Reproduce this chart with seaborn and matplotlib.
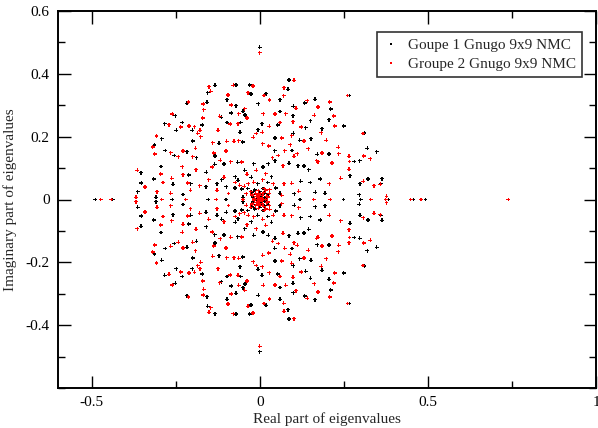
import numpy as np
import pandas as pd
import matplotlib
matplotlib.use("Agg")
import matplotlib.pyplot as plt
import seaborn as sns
from matplotlib.ticker import MultipleLocator
from matplotlib.lines import Line2D

# ---- data (eigenvalues; complex ones come in conjugate pairs) ----
# Group 1 (black): eigenvalues with positive imaginary part
g1_re_upper = [-0.133, -0.071, -0.030, -0.155, -0.026, -0.097, -0.216, -0.157, -0.071, -0.004,
               -0.050, -0.251, -0.114, -0.085, -0.044, -0.283, -0.230, -0.248, -0.201, -0.171,
               -0.097, -0.057, -0.059, -0.005, -0.292, -0.199, -0.121, -0.051, -0.313, -0.281,
               -0.254, -0.216, -0.188, -0.133,
               -0.294, -0.353, -0.352, -0.315, -0.258, -0.211, -0.205, -0.228, -0.160, -0.159,
               -0.134, -0.127, -0.113, -0.099, -0.073, -0.074, -0.066, -0.106, -0.045, -0.054,
               -0.036, -0.363, -0.309,
               0.087, 0.084, 0.019, 0.060, 0.134, 0.164, 0.211, 0.100, 0.266, 0.060,
               0.099, 0.151, 0.206, 0.250, 0.311, 0.007, 0.053, 0.137, 0.185, 0.152,
               0.119, 0.100, 0.045, 0.044, 0.096, 0.171, 0.206, 0.281, 0.320, 0.348,
               0.322, 0.364,
               0.087, 0.114, 0.132, 0.146, 0.297, 0.268, 0.298, 0.360, 0.296, 0.194,
               0.165, 0.150, 0.180, 0.103, 0.122,
               0.000,
               0.010, 0.035, 0.024, 0.047, 0.060, 0.045, 0.025, -0.018, -0.025, -0.006,
               -0.024, -0.050, -0.065,
               0.005, -0.010, 0.015, -0.020, 0.020, 0.000, -0.015, 0.010, 0.025, -0.004,
               0.014, -0.022]
g1_im_upper = [0.363, 0.364, 0.364, 0.340, 0.336, 0.318, 0.306, 0.309, 0.299, 0.305,
               0.281, 0.267, 0.262, 0.275, 0.269, 0.241, 0.245, 0.220, 0.220, 0.237,
               0.245, 0.245, 0.214, 0.222, 0.194, 0.186, 0.179, 0.183, 0.173, 0.156,
               0.140, 0.152, 0.133, 0.138,
               0.105, 0.085, 0.053, 0.065, 0.048, 0.078, 0.050, 0.016, 0.041, 0.087,
               0.112, 0.050, 0.063, 0.041, 0.073, 0.037, 0.118, 0.113, 0.093, 0.033,
               0.035, 0.025, 0.007,
               0.380, 0.351, 0.337, 0.318, 0.307, 0.319, 0.288, 0.297, 0.331, 0.280,
               0.267, 0.251, 0.254, 0.234, 0.212, 0.241, 0.237, 0.229, 0.225, 0.194,
               0.188, 0.211, 0.196, 0.155, 0.156, 0.144, 0.145, 0.121, 0.163, 0.152,
               0.065, 0.066,
               0.115, 0.108, 0.107, 0.095, 0.124, 0.076, 0.050, 0.050, 0.015, 0.020,
               0.023, 0.054, 0.065, 0.018, 0.058,
               0.484,
               0.103, 0.073, 0.054, 0.037, 0.020, 0.124, 0.114, 0.114, 0.071, 0.050,
               0.025, 0.007, 0.061,
               0.010, 0.015, 0.020, 0.008, 0.005, 0.025, 0.030, 0.035, 0.015, 0.004,
               0.006, 0.022]
# Group 1 real eigenvalues
g1_re_real = [-0.489, -0.437, -0.260, -0.153, -0.100, -0.010, 0.000, 0.012, 0.120, 0.249,
              0.300, 0.382, 0.457, 0.493]

# Group 2 (red): eigenvalues with positive imaginary part
g2_re_upper = [-0.151, -0.079, -0.020, -0.146, -0.094, -0.035, -0.212, -0.168, -0.085, -0.167,
               -0.045, -0.260, -0.170, -0.119, -0.063, -0.038, -0.270, -0.235, -0.210, -0.194,
               -0.185, -0.178, -0.124, -0.088, -0.065, -0.010, -0.307, -0.176, -0.140, -0.098,
               -0.077, -0.063, -0.019, -0.318, -0.265, -0.228, -0.242, -0.191, -0.199, -0.137,
               -0.117, -0.100,
               -0.312, -0.295, -0.364, -0.341, -0.368, -0.288, -0.262, -0.230, -0.228, -0.214,
               -0.206, -0.265, -0.190, -0.179, -0.152, -0.141, -0.127, -0.106, -0.093, -0.073,
               -0.086, -0.054, -0.038, -0.046, -0.306,
               0.102, 0.072, 0.013, 0.071, 0.029, 0.141, 0.208, 0.173, 0.108, 0.261,
               0.011, 0.045, 0.077, 0.099, 0.162, 0.220, 0.223, 0.307, 0.008, 0.028,
               0.060, 0.124, 0.183, 0.132, 0.095, 0.065, 0.009, 0.027, 0.038, 0.074,
               0.091, 0.112, 0.144, 0.169, 0.198, 0.234, 0.265, 0.309, 0.329, 0.265,
               0.340,
               0.069, 0.102, 0.173, 0.185, 0.215, 0.235, 0.267, 0.241, 0.308, 0.377,
               0.207, 0.116, 0.095, 0.072, 0.359,
               0.000,
               0.018, 0.009, 0.040, 0.030, 0.065, 0.055, -0.010, -0.018, -0.034, -0.040,
               -0.060,
               0.000, 0.008, -0.008, 0.012, -0.012, 0.020, -0.022, 0.003, -0.004, 0.018,
               0.028, -0.027, 0.006, -0.016, 0.024, -0.002, 0.014]
g2_im_upper = [0.359, 0.363, 0.361, 0.344, 0.333, 0.340, 0.310, 0.304, 0.301, 0.286,
               0.289, 0.272, 0.259, 0.265, 0.273, 0.259, 0.238, 0.231, 0.234, 0.232,
               0.211, 0.220, 0.220, 0.240, 0.241, 0.210, 0.202, 0.200, 0.181, 0.185,
               0.185, 0.187, 0.198, 0.167, 0.149, 0.154, 0.136, 0.163, 0.136, 0.148,
               0.125, 0.154,
               0.145, 0.081, 0.093, 0.040, 0.007, 0.054, 0.067, 0.104, 0.079, 0.053,
               0.029, 0.020, 0.095, 0.044, 0.063, 0.103, 0.029, 0.071, 0.019, 0.054,
               0.120, 0.119, 0.080, 0.042, 0.025,
               0.379, 0.356, 0.331, 0.330, 0.317, 0.315, 0.310, 0.294, 0.290, 0.331,
               0.273, 0.272, 0.273, 0.248, 0.268, 0.266, 0.234, 0.210, 0.214, 0.233,
               0.245, 0.231, 0.213, 0.186, 0.203, 0.196, 0.178, 0.170, 0.133, 0.155,
               0.174, 0.146, 0.162, 0.124, 0.188, 0.166, 0.137, 0.138, 0.130, 0.096,
               0.044,
               0.108, 0.137, 0.120, 0.148, 0.116, 0.146, 0.121, 0.067, 0.058, 0.010,
               0.050, 0.026, 0.052, 0.050, 0.048,
               0.467,
               0.082, 0.063, 0.050, 0.031, 0.013, 0.140, 0.093, 0.055, 0.050, 0.018,
               0.045,
               0.005, 0.012, 0.010, 0.022, 0.020, 0.010, 0.014, 0.018, 0.028, 0.030,
               0.020, 0.025, 0.003, 0.004, 0.008, 0.015, 0.035]
# Group 2 real eigenvalues
g2_re_real = [-0.473, -0.441, -0.292, -0.220, -0.129, -0.050, -0.018, -0.005, 0.006, 0.018,
              0.160, 0.210, 0.330, 0.375, 0.449, 0.480, 0.739]

labels = ["Goupe 1 Gnugo 9x9 NMC", "Groupe 2 Gnugo 9x9 NMC"]
colors = ["black", "red"]


def spectrum(re_up, im_up, re_real):
    re = list(re_up) + list(re_up) + list(re_real)
    im = list(im_up) + [-v for v in im_up] + [0.0] * len(re_real)
    return re, im


frames = []
for lab, (ru, iu, rr) in zip(labels, [(g1_re_upper, g1_im_upper, g1_re_real),
                                      (g2_re_upper, g2_im_upper, g2_re_real)]):
    re, im = spectrum(ru, iu, rr)
    frames.append(pd.DataFrame({"re": re, "im": im, "group": lab}))
df = pd.concat(frames, ignore_index=True)

# ---- plot ----
sns.set_style("ticks")
plt.rcParams["font.family"] = ["Liberation Serif", "DejaVu Serif"]

fig = plt.figure(figsize=(5.98, 4.28), dpi=100)
ax = fig.add_axes([58 / 598, 1 - 388 / 428, 538 / 598, 377 / 428])

sns.scatterplot(data=df, x="re", y="im", hue="group", hue_order=labels,
                palette=dict(zip(labels, colors)), marker="P", s=8, linewidth=0,
                edgecolor="none", ax=ax, legend=False)

ax.set_xlim(-0.6, 1.0)
ax.set_ylim(-0.6, 0.6)
ax.xaxis.set_minor_locator(MultipleLocator(0.25))
ax.yaxis.set_minor_locator(MultipleLocator(0.1))
ax.set_xticks([-0.5, 0, 0.5, 1])
ax.set_xticklabels(["-0.5", "0", "0.5", "1"])
ax.set_yticks([-0.4, -0.2, 0, 0.2, 0.4, 0.6])
ax.set_yticklabels(["-0.4", "-0.2", "0", "0.2", "0.4", "0.6"])
ax.tick_params(which="both", direction="in", top=True, right=True, width=1.0,
               labelsize=11, pad=6, colors="black")
ax.tick_params(which="major", length=9)
ax.tick_params(which="minor", length=5)
for sp in ax.spines.values():
    sp.set_linewidth(1.4)
    sp.set_color("black")

ax.set_xlabel("Real part of eigenvalues", fontsize=11, labelpad=2)
ax.set_ylabel("Imaginary part of eigenvalues", fontsize=11, labelpad=6)

handles = [Line2D([], [], marker="s", linestyle="none", markersize=2.0, color=c,
                  markeredgewidth=0) for c in colors]
leg = ax.legend(handles, labels, loc="upper right", bbox_to_anchor=(0.974, 0.944),
                fontsize=11, frameon=True, fancybox=False, borderpad=0.4,
                handlelength=1.0, handletextpad=0.6, labelspacing=0.35, borderaxespad=0)
leg.get_frame().set_edgecolor("black")
leg.get_frame().set_linewidth(1.2)

fig.savefig("out.png", dpi=100)
